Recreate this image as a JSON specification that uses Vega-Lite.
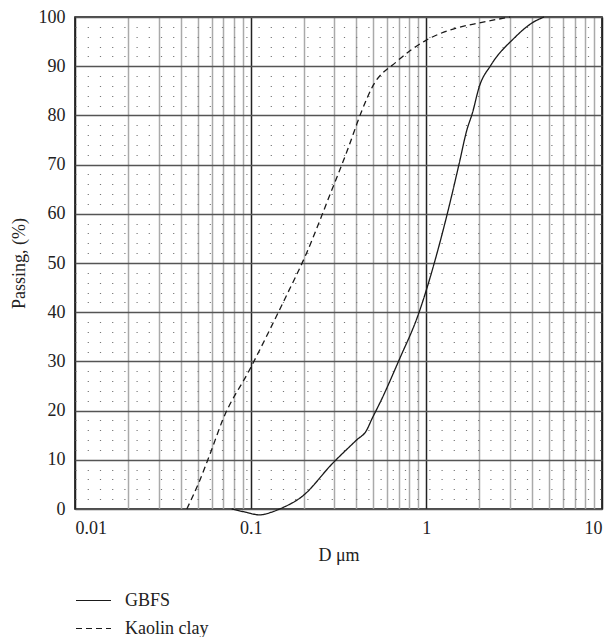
{
  "$schema": "https://vega.github.io/schema/vega-lite/v6.json",
  "width": 527,
  "height": 492,
  "autosize": {"type": "none"},
  "padding": {"left": 75, "top": 17, "right": 11, "bottom": 128},
  "background": "white",
  "config": {
    "font": "Liberation Serif",
    "view": {"stroke": "#111", "strokeWidth": 1.6},
    "axis": {"labelFont": "Liberation Serif", "titleFont": "Liberation Serif", "labelFontSize": 18, "titleFontSize": 18, "labelColor": "#222", "titleColor": "#222", "titleFontWeight": "normal", "domain": false, "ticks": false},
    "legend": {"labelFont": "Liberation Serif", "labelFontSize": 18, "labelColor": "#222"}
  },
  "data": {
    "values": [
      {"series": "GBFS", "d": 0.078, "p": 0},
      {"series": "GBFS", "d": 0.095, "p": -0.7},
      {"series": "GBFS", "d": 0.112, "p": -1.2},
      {"series": "GBFS", "d": 0.13, "p": -0.7},
      {"series": "GBFS", "d": 0.146, "p": 0},
      {"series": "GBFS", "d": 0.197, "p": 2.6},
      {"series": "GBFS", "d": 0.293, "p": 9.3},
      {"series": "GBFS", "d": 0.40, "p": 14.0},
      {"series": "GBFS", "d": 0.457, "p": 16},
      {"series": "GBFS", "d": 0.49, "p": 18.3},
      {"series": "GBFS", "d": 0.555, "p": 22.2},
      {"series": "GBFS", "d": 0.70, "p": 30.3},
      {"series": "GBFS", "d": 0.91, "p": 40},
      {"series": "GBFS", "d": 1.0, "p": 44.5},
      {"series": "GBFS", "d": 1.11, "p": 50},
      {"series": "GBFS", "d": 1.32, "p": 60.2},
      {"series": "GBFS", "d": 1.54, "p": 70.3},
      {"series": "GBFS", "d": 1.70, "p": 77},
      {"series": "GBFS", "d": 1.83, "p": 80.5},
      {"series": "GBFS", "d": 2.0, "p": 85.8},
      {"series": "GBFS", "d": 2.33, "p": 90.2},
      {"series": "GBFS", "d": 3.16, "p": 95.7},
      {"series": "GBFS", "d": 4.0, "p": 98.8},
      {"series": "GBFS", "d": 4.68, "p": 100},
      {"series": "Kaolin clay", "d": 0.0433, "p": 0},
      {"series": "Kaolin clay", "d": 0.0513, "p": 5.8},
      {"series": "Kaolin clay", "d": 0.0593, "p": 11.6},
      {"series": "Kaolin clay", "d": 0.0693, "p": 18.1},
      {"series": "Kaolin clay", "d": 0.0986, "p": 28.3},
      {"series": "Kaolin clay", "d": 0.156, "p": 42.6},
      {"series": "Kaolin clay", "d": 0.208, "p": 52},
      {"series": "Kaolin clay", "d": 0.28, "p": 63.5},
      {"series": "Kaolin clay", "d": 0.356, "p": 73},
      {"series": "Kaolin clay", "d": 0.43, "p": 81},
      {"series": "Kaolin clay", "d": 0.493, "p": 85.8},
      {"series": "Kaolin clay", "d": 0.676, "p": 90.9},
      {"series": "Kaolin clay", "d": 1.0, "p": 95.3},
      {"series": "Kaolin clay", "d": 1.5, "p": 97.8},
      {"series": "Kaolin clay", "d": 2.0, "p": 98.8},
      {"series": "Kaolin clay", "d": 3.0, "p": 100}
    ]
  },
  "mark": {"type": "line", "interpolate": "monotone", "color": "#1a1a1a", "strokeWidth": 1.3, "clip": false},
  "encoding": {
    "x": {
      "field": "d", "type": "quantitative",
      "scale": {"type": "log", "domain": [0.01, 10], "nice": false},
      "axis": {
        "title": "D μm",
        "titlePadding": 9,
        "labelPadding": 10,
        "labelOverlap": false,
        "values": [0.01,0.02,0.03,0.04,0.05,0.06,0.07,0.08,0.09,0.1,0.2,0.3,0.4,0.5,0.6,0.7,0.8,0.9,1,2,3,4,5,6,7,8,9,10],
        "labelExpr": "abs(log(datum.value)/LN10 - round(log(datum.value)/LN10)) < 1e-6 ? format(datum.value, '.2~f') : ''",
        "grid": true,
        "gridColor": {"condition": {"test": "abs(log(datum.value)/LN10 - round(log(datum.value)/LN10)) < 1e-6", "value": "#222"}, "value": "#aaaaaa"},
        "gridWidth": 1.5,
        "gridOpacity": 1
      }
    },
    "y": {
      "field": "p", "type": "quantitative",
      "scale": {"domain": [0, 100], "nice": false, "zero": false},
      "axis": {
        "title": "Passing, (%)",
        "titlePadding": 10,
        "labelPadding": 10,
        "values": [0,2,4,6,8,10,12,14,16,18,20,22,24,26,28,30,32,34,36,38,40,42,44,46,48,50,52,54,56,58,60,62,64,66,68,70,72,74,76,78,80,82,84,86,88,90,92,94,96,98,100],
        "labelExpr": "datum.value % 10 === 0 ? datum.label : ''",
        "labelOverlap": false,
        "grid": true,
        "gridColor": {"condition": {"test": "datum.value % 10 === 0", "value": "#555555"}, "value": "#777777"},
        "gridDash": {"condition": {"test": "datum.value % 10 === 0", "value": []}, "value": [1.2, 11]},
        "gridWidth": {"condition": {"test": "datum.value % 10 === 0", "value": 1.6}, "value": 1},
        "gridOpacity": 1
      }
    },
    "strokeDash": {
      "field": "series", "type": "nominal",
      "scale": {"domain": ["GBFS", "Kaolin clay"], "range": [[1, 0], [6, 4]]},
      "legend": {
        "title": null,
        "orient": "none",
        "legendX": 0,
        "legendY": 575,
        "symbolType": "stroke",
        "symbolSize": 1225,
        "clipHeight": 17,
        "symbolStrokeColor": "#1a1a1a",
        "symbolStrokeWidth": 1.2,
        "labelOffset": 13,
        "rowPadding": 9,
        "padding": 0
      }
    }
  }
}
